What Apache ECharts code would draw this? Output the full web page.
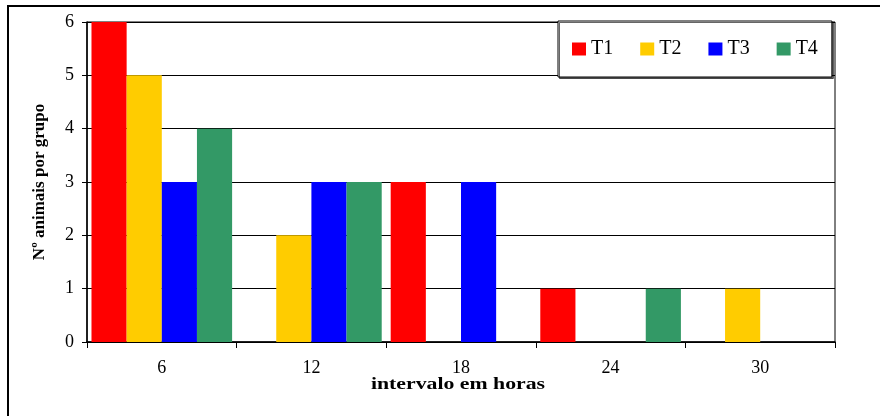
<!DOCTYPE html>
<html>
<head>
<meta charset="utf-8">
<script src="https://cdn.jsdelivr.net/npm/echarts@6/dist/echarts.min.js"></script>
<style>html,body{margin:0;padding:0;background:#fff}#c{width:880px;height:416px}</style>
</head>
<body>
<div id="c"></div>
<script>
var categories = ['6', '12', '18', '24', '30'];
var seriesNames = ['T1', 'T2', 'T3', 'T4'];
var t1 = [6, 0, 3, 1, 0];
var t2 = [5, 2, 0, 0, 1];
var t3 = [3, 3, 3, 0, 0];
var t4 = [4, 3, 0, 1, 0];
var colors = ['#FF0000', '#FFCC00', '#0000FF', '#339966'];
var values = [t1, t2, t3, t4];
var xTitle = 'intervalo em horas';
var yTitle = 'Nº animais por grupo';

var font = 'Liberation Serif, Times New Roman, serif';
var chart = echarts.init(document.getElementById('c'), null, {renderer: 'canvas'});
chart.setOption({
  animation: false,
  textStyle: {fontFamily: font},
  graphic: [{
    type: 'rect', z: 100, silent: true,
    shape: {x: 8, y: 6, width: 1000, height: 1000},
    style: {fill: 'none', stroke: '#000', lineWidth: 2}
  }, {
    type: 'text', x: 458, y: 385, scaleX: 1.28, silent: true,
    style: {text: xTitle, font: 'bold 17px ' + font, fill: '#000',
            textAlign: 'center', textVerticalAlign: 'middle'}
  }],
  grid: {left: 87, right: 45, top: 22, bottom: 74, show: true, borderColor: '#000', borderWidth: 1},
  legend: {
    left: 558, top: 21,
    padding: [18, 14, 18, 14],
    itemWidth: 14, itemHeight: 13, itemGap: 27,
    backgroundColor: '#fff', borderColor: '#000', borderWidth: 1,
    shadowColor: 'rgba(0,0,0,0.6)', shadowOffsetX: 1.5, shadowOffsetY: 1.5, shadowBlur: 0,
    textStyle: {fontFamily: font, fontSize: 20, color: '#000'},
    data: seriesNames.map(function (n) { return {name: n, icon: 'rect'}; })
  },
  xAxis: {
    type: 'category', data: categories,
    axisLine: {lineStyle: {color: '#000', width: 1.5}},
    axisTick: {show: true, length: 6, lineStyle: {color: '#000'}},
    axisLabel: {color: '#000', fontSize: 18, fontFamily: font, margin: 17}
  },
  yAxis: {
    type: 'value', min: 0, max: 6, interval: 1,
    axisLine: {show: true, lineStyle: {color: '#000', width: 1.5}},
    axisTick: {show: true, length: 5, lineStyle: {color: '#000'}},
    axisLabel: {color: '#000', fontSize: 18, fontFamily: font, margin: 13},
    splitLine: {lineStyle: {color: '#000', width: 1}},
    name: yTitle, nameLocation: 'middle', nameGap: 39, nameRotate: 90,
    nameTextStyle: {fontFamily: font, fontWeight: 'bold', fontSize: 17, color: '#000'}
  },
  series: seriesNames.map(function (n, i) {
    return {
      name: n, type: 'bar', data: values[i],
      barGap: '0%', barCategoryGap: '6%',
      itemStyle: {color: colors[i]}
    };
  })
});
</script>
</body>
</html>
